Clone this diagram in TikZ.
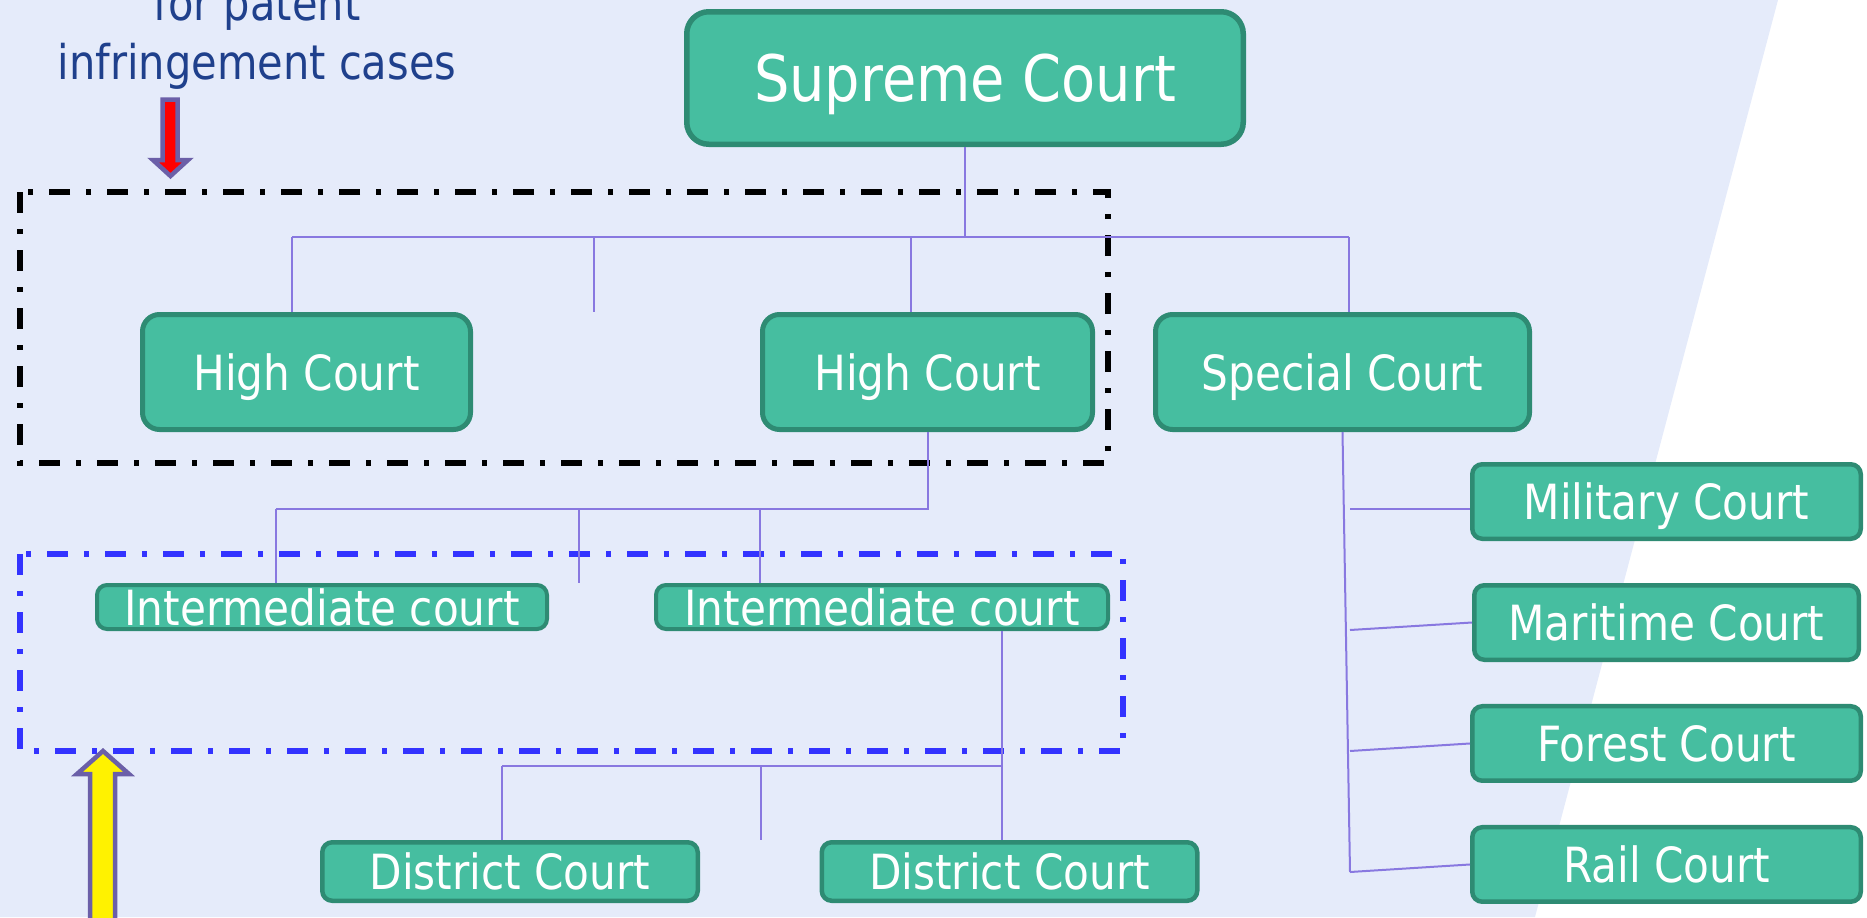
\documentclass[tikz,border=0pt]{standalone}
\usepackage{fontspec}
\setmainfont[FakeStretch=0.87]{DejaVu Sans}
\usetikzlibrary{calc,chains,positioning}

\newlength\px
\setlength\px{0.02cm}

\definecolor{courtfill}{RGB}{70,190,160}
\definecolor{courtedge}{RGB}{46,139,115}
\definecolor{linkline}{RGB}{136,120,224}
\definecolor{gridbg}{RGB}{229,235,250}
\definecolor{notetext}{RGB}{31,64,140}
\definecolor{tagedge}{RGB}{107,95,168}
\definecolor{zoneblue}{RGB}{51,51,255}

\begin{document}
\begin{tikzpicture}[x=0.02cm, y=-0.02cm,
  court/.style={rectangle, draw=courtedge, fill=courtfill, text=white, inner sep=0pt, text depth=0pt, rounded corners=10\px, line width=4.5\px, font=\fontsize{27.6}{30}\selectfont},
  apex/.style={court, rounded corners=22\px, line width=5.5\px, font=\fontsize{36.5}{40}\selectfont},
  tier/.style={court, rounded corners=17\px, line width=5\px, minimum height=115\px},
  link/.style={draw=linkline, line width=2\px},
  zone/.style={line width=5.5\px, dash pattern=on 21\px off 16\px on 5\px off 16\px},
  blockarrow/.style={draw=tagedge, line width=4.5\px, line join=miter},
  note/.style={text=notetext, inner sep=0pt, font=\fontsize{27.2}{33}\selectfont}]
            \useasboundingbox (0,0) rectangle (1867,917);
            \fill[gridbg] (0,0) -- (1778,0) -- (1535,917) -- (0,917) -- cycle;

            \node[note, anchor=base] (noteA) at (257,20) {for patent};
            \node[note, anchor=base] (noteB) at (257,79) {infringement cases};

            \draw[zone] (20,192) rectangle (1108,463);
            \draw[zone, zoneblue] (20,554) rectangle (1123,751);

            \node[apex, minimum width=556.5\px, minimum height=132.5\px] (sup) at (965,78) {Supreme Court};
            \node[tier, minimum width=328\px] (hcA) at (306.5,372) {High Court};
            \node[tier, minimum width=330\px] (hcB) at (927.5,372) {High Court};
            \node[tier, minimum width=374\px] (spc) at (1342.5,372) {Special Court};
            \node[court, line width=4\px, minimum width=450\px, minimum height=44\px] (intA) at (322,607) {Intermediate court};
            \node[court, line width=4\px, minimum width=452\px, minimum height=44\px] (intB) at (882,607) {Intermediate court};
            \node[court, minimum width=375.5\px, minimum height=58.5\px] (distA) at (510,871.5) {District Court};
            \node[court, minimum width=375.5\px, minimum height=58.5\px] (distB) at (1009.5,871.5) {District Court};

            \begin{scope}[start chain=side going below, node distance=0.84cm]
            \node[court, on chain, minimum width=388.5\px, minimum height=74.5\px] (mil) at (1666.5,501.5) {Military Court};
            \node[court, on chain, minimum width=384.5\px, minimum height=74.5\px] (mar) {Maritime Court};
            \node[court, on chain, minimum width=388.5\px, minimum height=74.5\px] (for) {Forest Court};
            \node[court, on chain, minimum width=388.5\px, minimum height=74.5\px] (rail) {Rail Court};
            \end{scope}

            % supreme -> high / special
            \coordinate (busA) at (292,237);
            \coordinate (busB) at (594,237);
            \coordinate (busC) at (911,237);
            \coordinate (busD) at (1349,237);
            \draw[link] (sup.south) -- (sup.south |- busA);
            \draw[link] (busA) -- (busD);
            \draw[link] (busA) -- (busA |- hcA.north);
            \draw[link] (busB) -- (busB |- hcA.north);
            \draw[link] (busC) -- (busC |- hcB.north);
            \draw[link] (busD) -- (busD |- spc.north);

            % high -> intermediate
            \coordinate (midA) at (276,509);
            \coordinate (midB) at (579,509);
            \coordinate (midC) at (760,509);
            \draw[link] (hcB.south) |- (midA);
            \draw[link] (midA) -- (midA |- intA.north);
            \draw[link] (midB) -- (midB |- intA.north);
            \draw[link] (midC) -- (midC |- intB.north);

            % intermediate -> district
            \coordinate (lowA) at (502,766);
            \coordinate (lowB) at (761,766);
            \coordinate (lowC) at (1002,766);
            \draw[link] (intB.south -| lowC) -- (lowC |- distB.north);
            \draw[link] (lowA) -- (lowC);
            \draw[link] (lowA) -- (lowA |- distA.north);
            \draw[link] (lowB) -- (lowB |- distA.north);

            % special -> side courts
            \coordinate (sideA) at (1350,509);
            \coordinate (sideB) at (1350,630);
            \coordinate (sideC) at (1350,751);
            \coordinate (sideD) at (1350,872);
            \draw[link] (spc.south) -- (sideD);
            \draw[link] (sideA) -- (sideA -| mil.west);
            \draw[link] (sideB) -- (mar.west);
            \draw[link] (sideC) -- (for.west);
            \draw[link] (sideD) -- (rail.west);

            \draw[blockarrow, fill=red] (162.5,99.5) -- (177.5,99.5) -- (177.5,160) -- (188,160) -- (170.5,176) -- (153,160) -- (162.5,160) -- cycle;
            \draw[blockarrow, fill=yellow] (90,940) -- (90,774) -- (77,774) -- (103,751) -- (129,774) -- (115,774) -- (115,940) -- cycle;
        \end{tikzpicture}
\end{document}
